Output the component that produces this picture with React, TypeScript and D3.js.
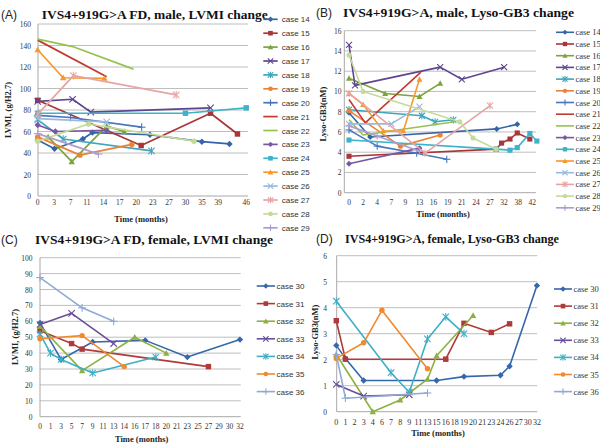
import React from "react";
import * as d3 from "d3";

// ---------- DATA ----------
const casesMale = ["case 14","case 15","case 16","case 17","case 18","case 19","case 20","case 21","case 22","case 23","case 24","case 25","case 26","case 27","case 28","case 29"];
const casesFemale = ["case 30","case 31","case 32","case 33","case 34","case 35","case 36"];

const colorsMale = ["#3565A8","#A83636","#7BA53C","#5E4590","#3CA6BC","#EA8336","#4677BE","#C23A32","#96C250","#7857A4","#3DB3CB","#F7982C","#9BB9DC","#E6A5A4","#C4DB98","#AD9DCD"];
const colorsFemale = ["#3567AC","#B03A3A","#8DB040","#6B4E9A","#3EAFC6","#F08A30","#8FAAD4"];

const markersMale = ["diamond","square","triangle","x","asterisk","circle","plus","none","none","diamond","square","triangle","x","asterisk","circle","plus"];
const markersFemale = ["diamond","square","triangle","x","asterisk","circle","plus"];

const monthsTicksA = [0,3,7,11,14,17,20,23,27,30,35,39,46];
const monthsTicksB = [0,2,4,7,9,13,16,19,21,24,27,32,38,42];
const monthsTicksC = [0,1,3,5,7,9,11,13,14,16,17,18,20,21,23,25,27,29,30,32];
const monthsTicksD = [0,1,2,3,4,6,7,8,9,11,13,15,16,18,19,20,21,23,24,26,27,30,32];

const lvmiTicksMale = [0,20,40,60,80,100,120,140,160];
const lysoTicksMale = [0,2,4,6,8,10,12,14,16];
const lvmiTicksFemale = [0,10,20,30,40,50,60,70,80,90,100];
const lysoTicksFemale = [0,1,2,3,4,5,6];

type Pt = [number, number];

// (A) male LVMI: [month, LVMI]
const maleLvmi: Pt[][] = [
  [[0,52],[3.1,44],[10,53],[12,59],[22.5,57],[35,50.5],[41.8,48.4]],
  [[0,89],[20.9,47],[37.1,77],[43.8,57.7]],
  [[1.9,55],[7.3,32],[14.6,65],[17.8,60]],
  [[0,88],[7.5,90],[11.7,78],[37.1,82]],
  [[0,71],[5.2,53],[22.8,42]],
  [[0,55],[9.3,38],[19.2,48]],
  [[0,75],[7,73],[21,64]],
  [[0,145],[14.6,111]],
  [[0,146],[7.5,139],[19.5,118]],
  [[0,66],[3.3,60],[14.6,61]],
  [[0,77],[30,77],[46,82]],
  [[0,136],[5.2,110],[14.2,109.5]],
  [[0,72],[14.6,69]],
  [[0,76],[7.7,112],[28.3,94]],
  [[0,51],[11.3,67],[32.6,51]],
  [[0,58],[13.1,39]],
];

// (B) male lyso-GB3: [month, nM]
const maleLyso: Pt[][] = [
  [[0,7.9],[3,5.5],[29.4,6.3],[37.6,6.75]],
  [[0,3.6],[29.2,4.3],[31.1,4.9],[34.5,5.3],[37.6,5.9],[41.3,5.3]],
  [[0,11.3],[5.7,9.8],[13,9.5],[17.4,10.8]],
  [[0,14.6],[0.85,10.6],[17.4,12.4],[21,11.2],[32,12.4]],
  [[0,8.2],[13.5,7.6],[16.3,7.0],[19.8,7.2]],
  [[0,8.1],[8.3,4.6],[17.4,5.7]],
  [[0,6.2],[4,4.6],[12.2,3.9],[18.8,3.3]],
  [[0,9.2],[2.3,6.9],[13.3,11.9]],
  [[0,7.2],[2,5.7],[20,7.0]],
  [[0,2.85],[13,4.4]],
  [[0,5.2],[29.2,4.3],[34.5,4.2],[37.6,4.45],[41.3,5.85],[43.3,5.1]],
  [[0,9.8],[2,8.7],[5.3,6.1],[8.7,6.1],[13,11.2]],
  [[0,6.8],[7,6.8],[13,8.5]],
  [[0,9.8],[14.2,3.9],[27,8.6]],
  [[0,13.6],[2,10],[20.7,7.0],[23.4,5.4],[29.2,4.3]],
  [[0,6.6],[4,5.6],[13,4.1]],
];

// (C) female LVMI
const femaleLvmi: Pt[][] = [
  [[0,59],[3,36],[9,47],[17,48],[23,37.5],[32,48.5]],
  [[0,54],[5,46],[7,42.5],[27,31.5]],
  [[0,57],[7,29],[16,50],[20,40]],
  [[0,58],[5,65],[13,46]],
  [[0,52],[1,40],[3,36],[9,27.5],[18,37.5]],
  [[0,49],[7,51],[14,31.5]],
  [[0,87.5],[7,68.5],[13,60]],
];

// (D) female lyso-GB3
const femaleLyso: Pt[][] = [
  [[0,2.55],[1,2.05],[3,1.2],[15,1.2],[19,1.35],[24,1.4],[26,1.75],[32,4.85]],
  [[0,3.5],[1,2.02],[16,2.02],[19,3.4],[23,3.05],[26,3.38]],
  [[0,2.2],[4,0],[8,0.45],[13,1.25],[15,2.15],[20,3.7]],
  [[0,1.05],[3,0.6],[9,0.65]],
  [[0,4.25],[7,1.5],[9,0.75],[13,2.8],[16,3.65],[19,3.0]],
  [[0,2.05],[3,2.65],[6,3.9],[13,1.65]],
  [[0,2.2],[1,0.52],[13,0.72]],
];

// ---------- RENDER ----------
const SERIF = "'Liberation Serif', 'Times New Roman', serif";
const SANS = "'Liberation Sans', Arial, sans-serif";

function Marker({ shape, x, y, color, s }: { shape: string; x: number; y: number; color: string; s: number }) {
  const sw = 1.1;
  switch (shape) {
    case "diamond":
      return <polygon points={`${x},${y - s} ${x + s},${y} ${x},${y + s} ${x - s},${y}`} fill={color} />;
    case "square":
      return <rect x={x - s * 0.85} y={y - s * 0.85} width={s * 1.7} height={s * 1.7} fill={color} />;
    case "triangle":
      return <polygon points={`${x},${y - s} ${x + s},${y + s * 0.8} ${x - s},${y + s * 0.8}`} fill={color} />;
    case "circle":
      return <circle cx={x} cy={y} r={s * 0.85} fill={color} />;
    case "x":
      return (
        <g stroke={color} strokeWidth={sw}>
          <line x1={x - s} y1={y - s} x2={x + s} y2={y + s} />
          <line x1={x - s} y1={y + s} x2={x + s} y2={y - s} />
        </g>
      );
    case "asterisk":
      return (
        <g stroke={color} strokeWidth={sw}>
          <line x1={x - s} y1={y - s} x2={x + s} y2={y + s} />
          <line x1={x - s} y1={y + s} x2={x + s} y2={y - s} />
          <line x1={x} y1={y - s * 1.2} x2={x} y2={y + s * 1.2} />
        </g>
      );
    case "plus":
      return (
        <g stroke={color} strokeWidth={sw}>
          <line x1={x - s * 1.2} y1={y} x2={x + s * 1.2} y2={y} />
          <line x1={x} y1={y - s * 1.2} x2={x} y2={y + s * 1.2} />
        </g>
      );
    default:
      return null;
  }
}

type PanelCfg = {
  letter: string; letterX: number; titleY: number;
  title: string; titleX: number; titleW: number;
  data: Pt[][]; names: string[]; colors: string[]; markers: string[];
  xTicks: number[]; x0: number; step: number; lastIdx?: number;
  yTicks: number[]; yTop: number; yBottom: number;
  left: number; right: number; yLabelRight: number; xLabelY: number;
  xFont: number; yFont: number;
  yTitle: string; yTitleX: number; yTitleY: number;
  xTitleX: number; xTitleY: number;
  legX1: number; legX2: number; legTextX: number; legY0: number; legDy: number; legFont: string; legSize: number;
  markerS: number; lineW: number;
};

function Panel({ c }: { c: PanelCfg }) {
  const idx = c.xTicks.map((_, i) => (i === c.xTicks.length - 1 && c.lastIdx != null ? c.lastIdx : i));
  const x = d3.scaleLinear().domain(c.xTicks).range(idx.map((i) => c.x0 + i * c.step));
  const yMax = c.yTicks[c.yTicks.length - 1];
  const y = d3.scaleLinear().domain([0, yMax]).range([c.yBottom, c.yTop]);
  const line = d3.line<Pt>().x((d) => x(d[0])).y((d) => y(d[1]));
  return (
    <g>
      <text x={c.letterX} y={c.titleY} fontFamily={SANS} fontSize={12} fill="#222">{c.letter}</text>
      <text x={c.titleX} y={c.titleY} fontFamily={SERIF} fontWeight="bold" fontSize={12.5} textLength={c.titleW} lengthAdjust="spacingAndGlyphs" fill="#111">{c.title}</text>
      {c.yTicks.map((t) => (
        <g key={t}>
          <line x1={c.left} x2={c.right} y1={y(t)} y2={y(t)} stroke={t === 0 ? "#A8A8A8" : "#BEBEBE"} strokeWidth={1} />
          <text x={c.yLabelRight} y={y(t) + 3} textAnchor="end" fontFamily={SERIF} fontSize={c.yFont} fill="#333">{t}</text>
        </g>
      ))}
      <line x1={c.left} x2={c.left} y1={c.yTop} y2={c.yBottom} stroke="#A8A8A8" strokeWidth={1} />
      {c.xTicks.map((t) => (
        <text key={t} x={x(t)} y={c.xLabelY} textAnchor="middle" fontFamily={SERIF} fontSize={c.xFont} fill="#333">{t}</text>
      ))}
      <text x={c.xTitleX} y={c.xTitleY} textAnchor="middle" fontFamily={SERIF} fontWeight="bold" fontSize={8.5} fill="#222">Time (months)</text>
      <text transform={`translate(${c.yTitleX},${c.yTitleY}) rotate(-90)`} textAnchor="middle" fontFamily={SERIF} fontWeight="bold" fontSize={8.5} fill="#222">{c.yTitle}</text>
      {c.data.map((s, i) => (
        <g key={i}>
          <path d={line(s) || ""} fill="none" stroke={c.colors[i]} strokeWidth={c.lineW} strokeLinejoin="round" />
          {s.map((p, j) => (
            <Marker key={j} shape={c.markers[i]} x={x(p[0])} y={y(p[1])} color={c.colors[i]} s={c.markerS} />
          ))}
        </g>
      ))}
      {c.names.map((n, i) => {
        const ly = c.legY0 + i * c.legDy;
        return (
          <g key={n}>
            <line x1={c.legX1} x2={c.legX2} y1={ly} y2={ly} stroke={c.colors[i]} strokeWidth={c.lineW} />
            <Marker shape={c.markers[i]} x={(c.legX1 + c.legX2) / 2} y={ly} color={c.colors[i]} s={c.markerS * 0.85} />
            <text x={c.legTextX} y={ly + 3} fontFamily={c.legFont} fontSize={c.legSize} fill="#333">{n}</text>
          </g>
        );
      })}
    </g>
  );
}

const panels: PanelCfg[] = [
  {
    letter: "(A)", letterX: 1, titleY: 18.5, title: "IVS4+919G>A FD, male, LVMI  change", titleX: 41.7, titleW: 226,
    data: maleLvmi, names: casesMale, colors: colorsMale, markers: markersMale,
    xTicks: monthsTicksA, x0: 37.7, step: 16.42, lastIdx: 12.7,
    yTicks: lvmiTicksMale, yTop: 24, yBottom: 196, left: 38, right: 248, yLabelRight: 31, xLabelY: 205,
    xFont: 7.5, yFont: 7.5,
    yTitle: "LVMI,  (g/H2.7)", yTitleX: 11, yTitleY: 110, xTitleX: 141, xTitleY: 222,
    legX1: 263.3, legX2: 277.7, legTextX: 281.7, legY0: 19.3, legDy: 13.9, legFont: SANS, legSize: 8,
    markerS: 3.2, lineW: 1.7,
  },
  {
    letter: "(B)", letterX: 316, titleY: 16.7, title: "IVS4+919G>A, male, Lyso-GB3 change", titleX: 343, titleW: 231,
    data: maleLyso, names: casesMale, colors: colorsMale, markers: markersMale,
    xTicks: monthsTicksB, x0: 349, step: 14.1,
    yTicks: lysoTicksMale, yTop: 30.7, yBottom: 192.7, left: 344.3, right: 536, yLabelRight: 341.5, xLabelY: 204.5,
    xFont: 7.5, yFont: 7.5,
    yTitle: "Lyso-GB3(nM)", yTitleX: 326, yTitleY: 114, xTitleX: 443, xTitleY: 217,
    legX1: 556, legX2: 574, legTextX: 575.5, legY0: 32.3, legDy: 11.7, legFont: SERIF, legSize: 8.5,
    markerS: 3, lineW: 1.6,
  },
  {
    letter: "(C)", letterX: 1, titleY: 243.5, title: "IVS4+919G>A FD, female, LVMI  change", titleX: 35, titleW: 238,
    data: femaleLvmi, names: casesFemale, colors: colorsFemale, markers: markersFemale,
    xTicks: monthsTicksC, x0: 40, step: 10.526,
    yTicks: lvmiTicksFemale, yTop: 257.7, yBottom: 416.7, left: 40, right: 240.7, yLabelRight: 32.5, xLabelY: 429,
    xFont: 7.5, yFont: 7.5,
    yTitle: "LVMI,  (g/H2.7)", yTitleX: 18, yTitleY: 337, xTitleX: 141.7, xTitleY: 442,
    legX1: 256.7, legX2: 275, legTextX: 276.5, legY0: 286, legDy: 17.6, legFont: SANS, legSize: 8,
    markerS: 3.2, lineW: 1.6,
  },
  {
    letter: "(D)", letterX: 316, titleY: 242.7, title: "IVS4+919G>A, female, Lyso-GB3 change", titleX: 345, titleW: 214,
    data: femaleLyso, names: casesFemale, colors: colorsFemale, markers: markersFemale,
    xTicks: monthsTicksD, x0: 336.3, step: 9.12,
    yTicks: lysoTicksFemale, yTop: 255.7, yBottom: 411.7, left: 336.7, right: 537.3, yLabelRight: 327, xLabelY: 425,
    xFont: 8, yFont: 7.5,
    yTitle: "Lyso-GB3(nM)", yTitleX: 318, yTitleY: 332, xTitleX: 438, xTitleY: 436,
    legX1: 554, legX2: 572, legTextX: 573.5, legY0: 289, legDy: 17.1, legFont: SERIF, legSize: 8.5,
    markerS: 3.2, lineW: 1.6,
  },
];

export default function App() {
  return (
    <svg width={600} height={444} viewBox="0 0 600 444" style={{ position: "absolute", left: 0, top: 0, background: "#fff" }}>
      <rect width={600} height={444} fill="#fff" />
      {panels.map((p) => (
        <Panel key={p.letter} c={p} />
      ))}
    </svg>
  );
}
